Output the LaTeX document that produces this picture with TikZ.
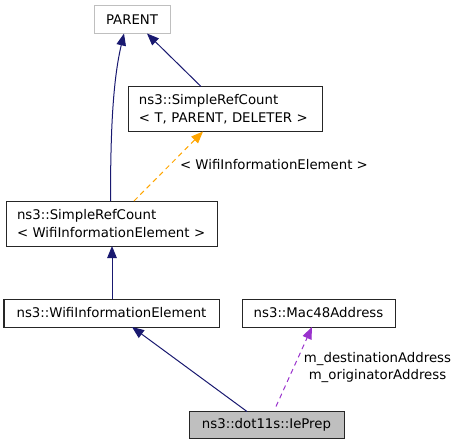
\documentclass[tikz,border=0pt]{standalone}
\usepackage{fontspec}
\setmainfont{DejaVu Sans}
\usetikzlibrary{arrows.meta}
\definecolor{navy}{HTML}{191970}
\definecolor{dorange}{HTML}{FFA500}
\definecolor{dorchid}{HTML}{9A32CD}
\definecolor{boxgray}{HTML}{BFBFBF}
\begin{document}
\begin{tikzpicture}[x=1pt,y=-1pt,
  every node/.style={font=\fontsize{13.3}{17.5}\selectfont, inner sep=0pt, outer sep=0pt},
  cls/.style={draw=black!85, line width=1pt, fill=white, minimum height=28pt},
  cls2/.style={draw=black!85, line width=1pt, fill=white, minimum height=45pt, align=left, text width=#1, inner xsep=11pt},
  inh/.style={draw=navy, line width=1pt, -{Triangle[length=12pt,width=9.5pt]}},
  tmpl/.style={draw=dorange, line width=1pt, dash pattern=on 5pt off 4pt, -{Triangle[length=12pt,width=9.5pt]}},
  usage/.style={draw=dorchid, line width=1pt, dash pattern=on 5pt off 4pt, -{Triangle[length=12pt,width=9.5pt]}},
  lbl/.style={align=center}
]
\useasboundingbox (0,0) rectangle (459,445);
\node[cls, draw=boxgray, minimum width=76pt] (PARENT) at (132,19.5) {PARENT};
\node[cls2=172pt] (SRCT) at (225,109) {ns3::SimpleRefCount\\< T, PARENT, DELETER >};
\node[cls2=189pt] (SRCW) at (111.5,223.5) {ns3::SimpleRefCount\\< WifiInformationElement >};
\node[cls, minimum width=215pt] (WIE) at (111.5,313) {ns3::WifiInformationElement};
\node[cls, minimum width=153pt] (MAC) at (318.5,313) {ns3::Mac48Address};
\node[cls, fill=boxgray, minimum width=155pt, minimum height=27pt] (IEP) at (266.5,425) {ns3::dot11s::IePrep};

\draw[inh] ([xshift=-1pt]SRCW.north) .. controls (110.5,130) and (113,80) .. ([xshift=-8pt]PARENT.south);
\draw[inh] ([xshift=-24pt]SRCT.north) -- ([xshift=15pt]PARENT.south);
\draw[tmpl] ([xshift=22.5pt]SRCW.north) -- ([xshift=-22pt]SRCT.south);
\node[lbl] (L1) at (274,165) {< WifiInformationElement >};
\draw[inh] ([xshift=0.5pt]WIE.north) -- ([xshift=0.5pt]SRCW.south);
\draw[inh] ([xshift=-19.5pt]IEP.north) -- ([xshift=20.5pt]WIE.south);
\draw[usage] ([xshift=9.5pt,yshift=5pt]IEP.north) -- ([xshift=-6.5pt]MAC.south);
\node[lbl] (L2) at (377.5,367.5) {m\_destinationAddress\\m\_originatorAddress};
\end{tikzpicture}
\end{document}
